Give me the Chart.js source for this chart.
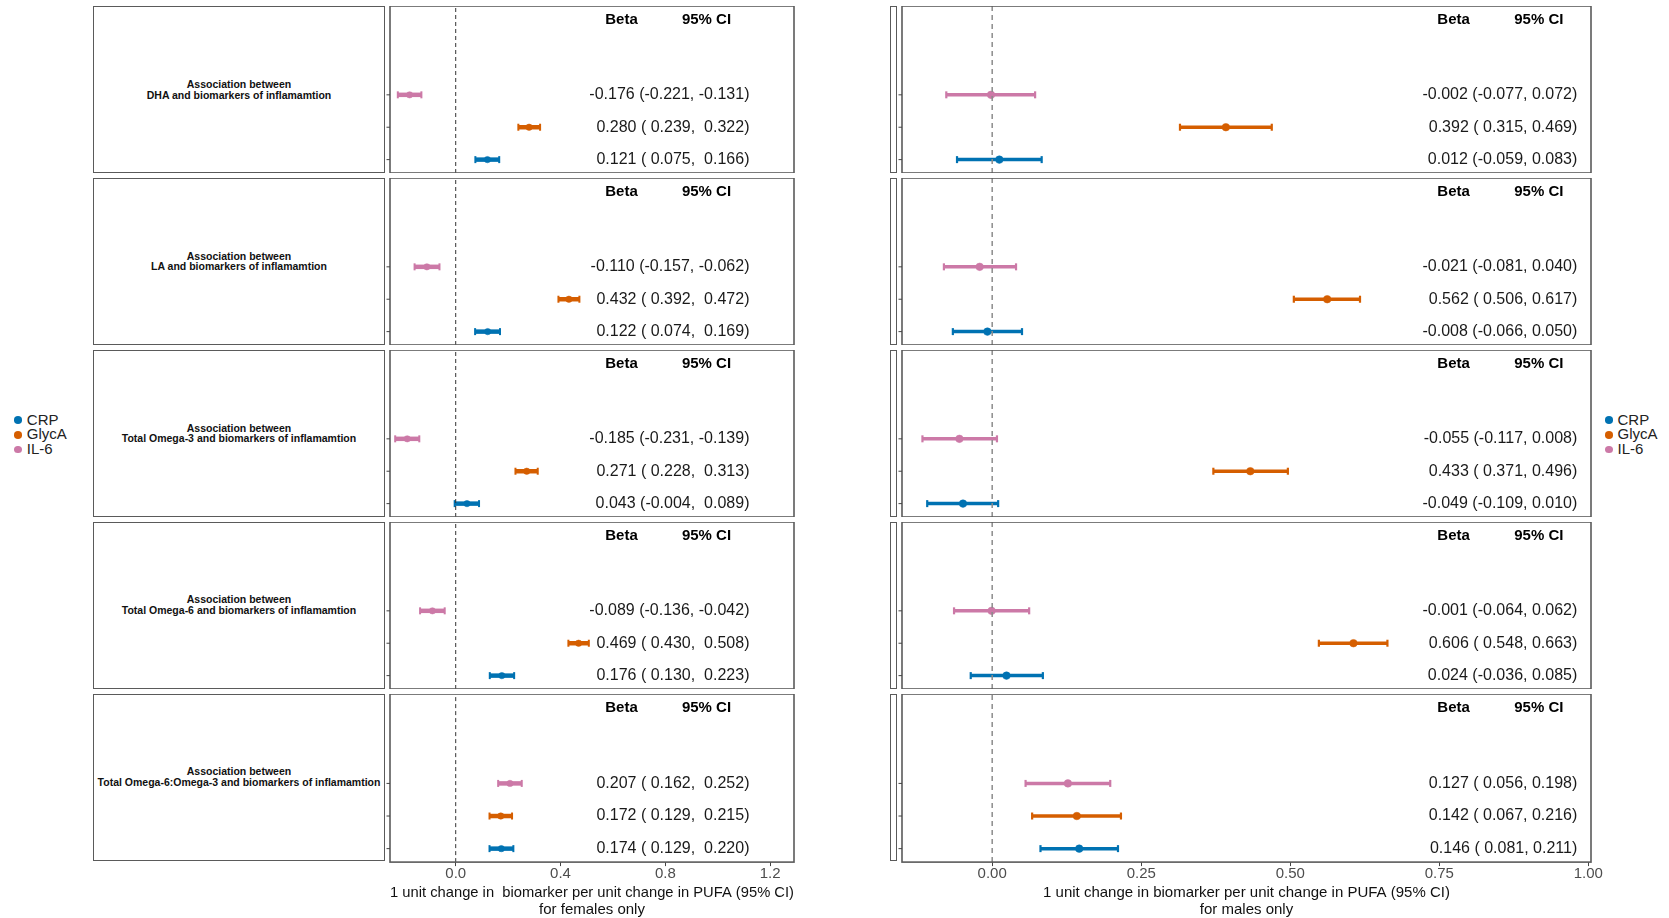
<!DOCTYPE html>
<html><head><meta charset="utf-8">
<script src="https://cdn.jsdelivr.net/npm/chart.js@4"></script>
<style>
body{margin:0;width:1669px;height:918px;background:#fff;position:relative;overflow:hidden;font-family:"Liberation Sans",Arial,sans-serif;}
.lbl{position:absolute;border:1.6px solid #5a5a5a;box-sizing:border-box;display:flex;align-items:center;justify-content:center;text-align:center;font-weight:bold;font-size:10.5px;line-height:10.7px;color:#111;}
.strip{position:absolute;border:1.6px solid #5a5a5a;box-sizing:border-box;}
canvas{position:absolute;}
.legend{position:absolute;font-size:15px;color:#222;line-height:14.8px;}
.legend div{display:flex;align-items:center;white-space:nowrap;}
.dot{width:8px;height:7.5px;border-radius:50%;display:inline-block;margin-right:4.5px;}
</style></head><body>
<script>
const markers = ['CRP', 'GlycA', 'IL-6'];
const markerColors = ['#0072B2', '#D55E00', '#CC79A7'];
const pufaLabels = ['DHA', 'LA', 'Total Omega-3', 'Total Omega-6', 'Total Omega-6:Omega-3'];
// rows: [CRP, GlycA, IL-6]
const femaleBeta  = [[0.121, 0.280, -0.176], [0.122, 0.432, -0.110], [0.043, 0.271, -0.185], [0.176, 0.469, -0.089], [0.174, 0.172, 0.207]];
const femaleLower = [[0.075, 0.239, -0.221], [0.074, 0.392, -0.157], [-0.004, 0.228, -0.231], [0.130, 0.430, -0.136], [0.129, 0.129, 0.162]];
const femaleUpper = [[0.166, 0.322, -0.131], [0.169, 0.472, -0.062], [0.089, 0.313, -0.139], [0.223, 0.508, -0.042], [0.220, 0.215, 0.252]];
const maleBeta  = [[0.012, 0.392, -0.002], [-0.008, 0.562, -0.021], [-0.049, 0.433, -0.055], [0.024, 0.606, -0.001], [0.146, 0.142, 0.127]];
const maleLower = [[-0.059, 0.315, -0.077], [-0.066, 0.506, -0.081], [-0.109, 0.371, -0.117], [-0.036, 0.548, -0.064], [0.081, 0.067, 0.056]];
const maleUpper = [[0.083, 0.469, 0.072], [0.050, 0.617, 0.040], [0.010, 0.496, 0.008], [0.085, 0.663, 0.062], [0.211, 0.216, 0.198]];
const femaleTicks = [0.0, 0.4, 0.8, 1.2];
const femaleTickLabels = ['0.0', '0.4', '0.8', '1.2'];
const maleTicks = [0.00, 0.25, 0.50, 0.75, 1.00];
const maleTickLabels = ['0.00', '0.25', '0.50', '0.75', '1.00'];
const headerLabels = ['Beta', '95% CI'];
const femaleTitle = ['1 unit change in  biomarker per unit change in PUFA (95% CI)', 'for females only'];
const maleTitle = ['1 unit change in biomarker per unit change in PUFA (95% CI)', 'for males only'];

const FONT = '"Liberation Sans", Arial, sans-serif';
const fmt = v => v.toFixed(3);
const padA = v => (v < 0 ? '' : ' ') + fmt(v);
const femaleText = (b, l, u) => `${fmt(b)} (${padA(l)}, ${padA(u)})`;
const maleText = (b, l, u) => `${fmt(b)} (${padA(l)}, ${fmt(u)})`;

const sides = {
  female: {beta: femaleBeta, lo: femaleLower, hi: femaleUpper, ticks: femaleTicks, tickLabels: femaleTickLabels,
    title: femaleTitle, text: femaleText, min: -0.2508, max: 1.291, left: 390, width: 404,
    betaX: 0.6326, ciX: 0.957, valX: 1.121, lineW: 4.5, capR: 3.5, capW: 2, ptR: 3.2,
    zeroColor: '#333', zeroW: 1, zeroDash: [4, 3]},
  male: {beta: maleBeta, lo: maleLower, hi: maleUpper, ticks: maleTicks, tickLabels: maleTickLabels,
    title: maleTitle, text: maleText, min: -0.1513, max: 1.0045, left: 902, width: 689,
    betaX: 0.774, ciX: 0.917, valX: 0.9815, lineW: 3.5, capR: 3.5, capW: 2.2, ptR: 3.8,
    zeroColor: '#8c8c8c', zeroW: 1.5, zeroDash: [5, 4]}
};
const Y_MIN = 0.587, Y_MAX = 5.742, HEADER_Y = 5.31;
const PANEL_TOP0 = 6, PANEL_PITCH = 171.9, PANEL_H = 167, PAD = 40, AXIS_H = 56.3;

const panelPlugin = {
  id: 'panelDeco',
  afterDatasetsDraw(chart, args, opts) {
    const {ctx, chartArea: a, scales: {x, y}} = chart;
    const s = opts.side, p = opts.p;
    ctx.save();
    ctx.strokeStyle = '#5a5a5a'; ctx.lineWidth = 1.6;
    ctx.strokeRect(a.left, a.top, a.right - a.left, a.bottom - a.top);
    ctx.strokeStyle = '#444'; ctx.lineWidth = 1;
    markers.forEach((m, i) => {
      const py = y.getPixelForValue(i + 1);
      ctx.beginPath(); ctx.moveTo(a.left - 3.5, py); ctx.lineTo(a.left, py); ctx.stroke();
    });
    ctx.fillStyle = '#000'; ctx.textBaseline = 'middle'; ctx.textAlign = 'center';
    ctx.font = 'bold 15px ' + FONT;
    const hy = y.getPixelForValue(HEADER_Y);
    ctx.fillText(headerLabels[0], x.getPixelForValue(s.betaX), hy);
    ctx.fillText(headerLabels[1], x.getPixelForValue(s.ciX), hy);
    ctx.font = '16px ' + FONT; ctx.fillStyle = '#1a1a1a'; ctx.textAlign = 'right';
    markers.forEach((m, i) => {
      ctx.fillText(s.text(s.beta[p][i], s.lo[p][i], s.hi[p][i]), x.getPixelForValue(s.valX), y.getPixelForValue(i + 1));
    });
    ctx.restore();
  }
};

function makePanel(sideKey, p) {
  const s = sides[sideKey];
  const bottom = p === pufaLabels.length - 1;
  const top = PANEL_TOP0 + p * PANEL_PITCH;
  const h = bottom ? 918 - top : PANEL_H;
  const wrap = document.createElement('div');
  wrap.style.position = 'absolute';
  wrap.style.left = (s.left - PAD) + 'px'; wrap.style.top = top + 'px';
  wrap.style.width = (s.width + 2 * PAD) + 'px'; wrap.style.height = h + 'px';
  const cv = document.createElement('canvas');
  wrap.appendChild(cv);
  document.body.appendChild(wrap);

  const datasets = [{
    data: [{x: 0, y: Y_MIN}, {x: 0, y: Y_MAX}], showLine: true, borderColor: s.zeroColor,
    borderWidth: s.zeroW, borderDash: s.zeroDash, pointRadius: 0
  }];
  markers.forEach((m, i) => {
    datasets.push({
      label: m + ' CI', data: [{x: s.lo[p][i], y: i + 1}, {x: s.hi[p][i], y: i + 1}], showLine: true,
      borderColor: markerColors[i], borderWidth: s.lineW, pointStyle: 'line', rotation: 90,
      pointRadius: s.capR, pointBorderWidth: s.capW, pointBorderColor: markerColors[i], pointBackgroundColor: markerColors[i]
    });
    datasets.push({
      label: m, data: [{x: s.beta[p][i], y: i + 1}], pointRadius: s.ptR,
      backgroundColor: markerColors[i], borderColor: markerColors[i], borderWidth: 0.5
    });
  });

  new Chart(cv, {
    type: 'scatter',
    data: {datasets},
    options: {
      responsive: true, maintainAspectRatio: false, animation: false, devicePixelRatio: 1,
      layout: {autoPadding: false, padding: {left: PAD, right: PAD, top: 0, bottom: 0}},
      plugins: {legend: {display: false}, tooltip: {enabled: false}, panelDeco: {side: s, p}},
      scales: {
        x: {
          type: 'linear', min: s.min, max: s.max, display: bottom,
          afterBuildTicks: sc => { sc.ticks = s.ticks.map(v => ({value: v})); },
          afterFit: sc => { if (bottom) { sc.height = AXIS_H; sc.paddingLeft = 0; sc.paddingRight = 0; } },
          ticks: {
            callback: v => s.tickLabels[s.ticks.findIndex(t => Math.abs(t - v) < 1e-9)],
            font: {size: 15, family: FONT}, color: '#4d4d4d', padding: -1, maxRotation: 0, autoSkip: false
          },
          grid: {drawOnChartArea: false, drawTicks: true, tickLength: 4, color: '#444', lineWidth: 1},
          border: {display: false},
          title: {display: true, text: s.title, font: {size: 15, family: FONT, lineHeight: 1.133}, color: '#111', padding: {top: 0, bottom: 0.5}}
        },
        y: {type: 'linear', min: Y_MIN, max: Y_MAX, display: false}
      }
    },
    plugins: [panelPlugin]
  });
}

pufaLabels.forEach((name, p) => {
  const top = PANEL_TOP0 + p * PANEL_PITCH;
  const d = document.createElement('div');
  d.className = 'lbl';
  d.style.left = '93px'; d.style.top = top + 'px'; d.style.width = '292px'; d.style.height = PANEL_H + 'px';
  d.innerHTML = 'Association between<br>' + name + ' and biomarkers of inflamamtion';
  document.body.appendChild(d);
  const st = document.createElement('div');
  st.className = 'strip';
  st.style.left = '890px'; st.style.top = top + 'px'; st.style.width = '7px'; st.style.height = PANEL_H + 'px';
  document.body.appendChild(st);
});

function makeLegend(left, top) {
  const lg = document.createElement('div');
  lg.className = 'legend'; lg.style.left = left + 'px'; lg.style.top = top + 'px';
  markers.forEach((m, i) => {
    const row = document.createElement('div');
    const dot = document.createElement('span');
    dot.className = 'dot'; dot.style.background = markerColors[i];
    row.appendChild(dot); row.appendChild(document.createTextNode(m));
    lg.appendChild(row);
  });
  document.body.appendChild(lg);
}
makeLegend(14.3, 412.6);
makeLegend(1605, 412.6);

pufaLabels.forEach((n, p) => { makePanel('female', p); makePanel('male', p); });
</script>
</body></html>
